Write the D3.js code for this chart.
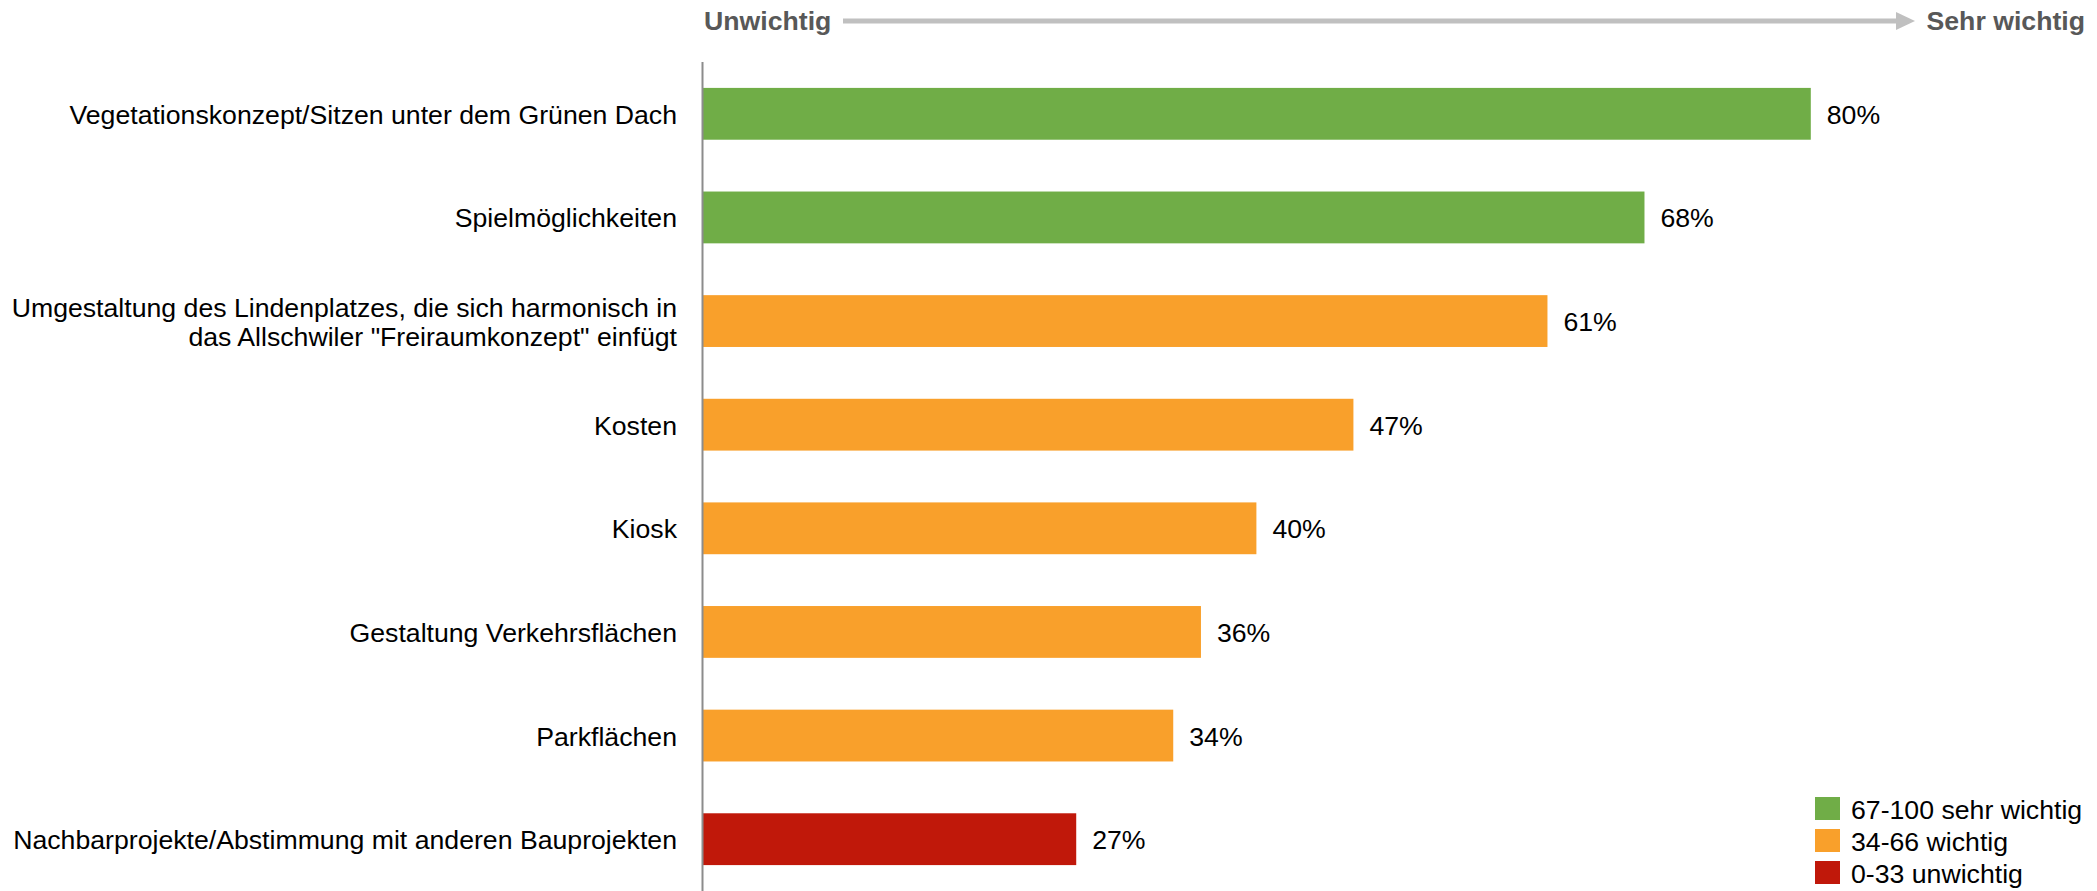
<!DOCTYPE html>
<html><head><meta charset="utf-8">
<script src="https://cdn.jsdelivr.net/npm/d3@7"></script>
<style>
html,body{margin:0;padding:0;background:#fff;}
svg{display:block;font-family:"Liberation Sans",Arial,Helvetica,sans-serif;}
</style></head>
<body>
<svg id="chart" width="2097" height="891"></svg>
<script>
const categories = [
  ["Vegetationskonzept/Sitzen unter dem Grünen Dach"],
  ["Spielmöglichkeiten"],
  ["Umgestaltung des Lindenplatzes, die sich harmonisch in", "das Allschwiler \"Freiraumkonzept\" einfügt"],
  ["Kosten"],
  ["Kiosk"],
  ["Gestaltung Verkehrsflächen"],
  ["Parkflächen"],
  ["Nachbarprojekte/Abstimmung mit anderen Bauprojekten"]
];
const values = [80, 68, 61, 47, 40, 36, 34, 27];
const legendLabels = ["67-100 sehr wichtig", "34-66 wichtig", "0-33 unwichtig"];
const legendColors = ["#70AD47", "#F9A02B", "#C0180A"];
const headerLeft = "Unwichtig";
const headerRight = "Sehr wichtig";

const FS = 26.67;
function colorFor(v){ return v >= 67 ? legendColors[0] : (v >= 34 ? legendColors[1] : legendColors[2]); }

const svg = d3.select("#chart");
const ids = d3.range(categories.length);
const y = d3.scaleBand().domain(ids).range([62, 891]).paddingInner(0.5).paddingOuter(0.25);
const x = d3.scaleLinear().domain([0, 100]).range([702, 2088]);

// bars
svg.append("g").selectAll("rect").data(ids).join("rect")
  .attr("x", x(0)).attr("y", i => y(i))
  .attr("width", i => x(values[i]) - x(0)).attr("height", y.bandwidth())
  .attr("fill", i => colorFor(values[i]));

// value labels
svg.append("g").selectAll("text").data(ids).join("text")
  .attr("x", i => x(values[i]) + 16)
  .attr("y", i => y(i) + y.bandwidth()/2 + 10)
  .attr("font-size", FS).attr("fill", "#000")
  .text(i => values[i] + "%");

// category labels
const lab = svg.append("g").selectAll("text").data(ids).join("text")
  .attr("text-anchor", "end").attr("font-size", FS).attr("fill", "#000");
lab.each(function(i){
  const lines = categories[i];
  const c = y(i) + y.bandwidth()/2 + 10;
  const lh = 29;
  const start = c - (lines.length - 1) * lh / 2;
  d3.select(this).selectAll("tspan").data(lines).join("tspan")
    .attr("x", 677).attr("y", (d, k) => start + k * lh).text(d => d);
});

// axis line
svg.append("g")
  .call(d3.axisLeft(y).tickSize(0).tickFormat(""))
  .call(g => g.select(".domain").attr("transform", "translate(702.5,0)").attr("stroke", "#8c8c8c").attr("stroke-width", 2)
    .attr("d", "M0,62V891"));

// header
svg.append("text").attr("x", 704).attr("y", 30).attr("font-size", FS).attr("font-weight", "bold")
  .attr("fill", "#585858").text(headerLeft);
svg.append("text").attr("x", 2085).attr("y", 30).attr("font-size", FS).attr("font-weight", "bold")
  .attr("text-anchor", "end").attr("fill", "#585858").text(headerRight);
svg.append("line").attr("x1", 843).attr("x2", 1900).attr("y1", 21).attr("y2", 21)
  .attr("stroke", "#c0c0c0").attr("stroke-width", 5);
svg.append("path").attr("d", "M1896,12 L1915,21 L1896,30 Z").attr("fill", "#c0c0c0");

// legend
const lg = svg.append("g").selectAll("g").data(legendLabels).join("g")
  .attr("transform", (d, k) => `translate(1815,${797 + k*32})`);
lg.append("rect").attr("width", 25).attr("height", 23).attr("fill", (d, k) => legendColors[k]);
lg.append("text").attr("x", 36).attr("y", 22).attr("font-size", FS).attr("fill", "#000").text(d => d);
</script>
</body></html>
